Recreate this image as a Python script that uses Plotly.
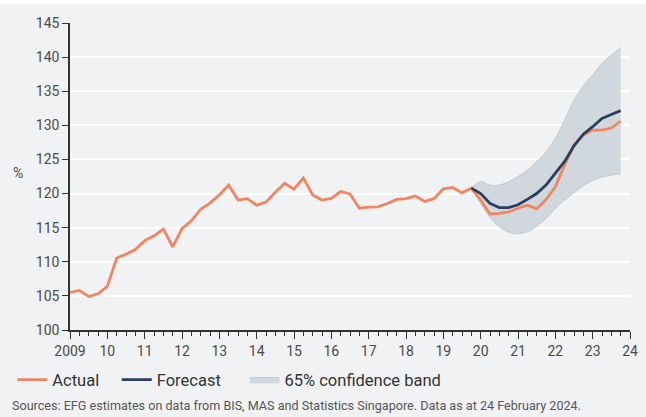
import plotly.graph_objects as go

# ---------------- data (quarterly) ----------------
start_year = 2009
actual = [
    105.5, 105.8, 104.9, 105.3,
    106.4, 110.55, 111.1, 111.8,
    113.1, 113.8, 114.8, 112.2,
    114.85, 116.0, 117.7, 118.6,
    119.8, 121.25, 119.05, 119.25,
    118.3, 118.75, 120.2, 121.5,
    120.65, 122.3, 119.8, 119.05,
    119.3, 120.3, 119.95, 117.85,
    118.0, 118.05, 118.55, 119.15,
    119.25, 119.65, 118.85, 119.25,
    120.7, 120.9, 120.1, 120.8,
    119.05, 117.0, 117.1, 117.3,
    117.85, 118.3, 117.75, 119.1,
    121.0, 124.2, 127.1, 128.6,
    129.3, 129.3, 129.6, 130.6,
]
forecast_start = 2019.75
forecast = [120.8, 120.0, 118.55, 117.95, 117.95, 118.35, 119.15, 120.0, 121.25,
            122.97, 124.7, 127.0, 128.7, 129.8, 131.0, 131.6, 132.15]
band_upper = [120.8, 121.75, 121.25, 121.25, 121.75, 122.5, 123.45, 124.7, 126.1,
              128.1, 130.8, 133.7, 135.8, 137.4, 139.1, 140.3, 141.4]
band_lower = [120.8, 118.55, 116.5, 115.15, 114.35, 114.1, 114.4, 115.2, 116.3,
              117.8, 119.05, 120.1, 121.15, 121.9, 122.4, 122.7, 122.9]
year_ticks = list(range(2009, 2025))
year_labels = ["2009"] + [str(y)[2:] for y in year_ticks[1:]]

x_actual = [start_year + i * 0.25 for i in range(len(actual))]
x_fc = [forecast_start + i * 0.25 for i in range(len(forecast))]

BG = "#f1f2f4"
ORANGE = "#f4845f"
NAVY = "#2a3f5f"
BAND = "#d0d7dd"
TXT = "#4a4a4a"
FONT = "Roboto"

fig = go.Figure()
fig.add_trace(go.Scatter(x=x_fc, y=band_lower, mode="lines",
                         line=dict(color="#bcc4cb", width=0.8, shape="spline"),
                         showlegend=False, hoverinfo="skip"))
fig.add_trace(go.Scatter(x=x_fc, y=band_upper, mode="lines", fill="tonexty",
                         fillcolor=BAND, name="65% confidence band",
                         line=dict(color="#bcc4cb", width=0.8, shape="spline"),
                         legend="legend3"))
fig.add_trace(go.Scatter(x=x_actual, y=actual, mode="lines", name="Actual",
                         line=dict(color=ORANGE, width=2.8), legend="legend"))
fig.add_trace(go.Scatter(x=x_fc, y=forecast, mode="lines", name="Forecast",
                         line=dict(color=NAVY, width=2.8), legend="legend2"))

leg_common = dict(orientation="h", y=-0.1055, xanchor="left", yanchor="top",
                  font=dict(size=16.5, color="#333333"), bgcolor="rgba(0,0,0,0)")

fig.update_layout(
    width=646, height=417,
    margin=dict(l=70, r=8, t=23, b=87),
    paper_bgcolor=BG, plot_bgcolor=BG,
    font=dict(family=FONT, color=TXT, size=14),
    showlegend=True,
    legend=dict(x=-0.103, **leg_common),
    legend2=dict(x=0.0835, **leg_common),
    legend3=dict(x=0.3116, **leg_common),
    xaxis=dict(range=[2009, 2024], tickmode="array", tickvals=year_ticks,
               ticktext=year_labels, showgrid=False, zeroline=False,
               showline=True, linecolor="#333333", linewidth=1.5,
               ticks="outside", ticklen=7, tickcolor="#333333", tickwidth=1.2,
               tickfont=dict(size=14, color=TXT),
               minor=dict(ticks="outside", ticklen=4, tickcolor="#333333",
                          tickwidth=1.2, dtick=0.25, tick0=2009, showgrid=False)),
    yaxis=dict(range=[100, 145], dtick=5, showgrid=True, gridcolor="#ffffff",
               gridwidth=1.5, zeroline=False, showline=True, linecolor="#333333",
               linewidth=1.5, ticks="outside", ticklen=6, tickcolor="#333333",
               tickwidth=1.2, tickfont=dict(size=14, color=TXT)),
)

# white strip at top of image
fig.add_shape(type="rect", xref="paper", yref="paper", x0=-1, x1=2,
              y0=1 + 19 / 307, y1=1 + 30 / 307, fillcolor="white",
              line=dict(width=0), layer="below")

fig.add_annotation(text="%", xref="paper", yref="paper", x=-0.092, y=0.51,
                   xanchor="center", yanchor="middle", showarrow=False,
                   font=dict(size=14, color=TXT))
fig.add_annotation(text="Sources: EFG estimates on data from BIS, MAS and Statistics Singapore. Data as at 24 February 2024.",
                   xref="paper", yref="paper", x=-0.108, y=-0.216,
                   xanchor="left", yanchor="top", showarrow=False,
                   font=dict(size=12.6, color="#555555"))

fig.write_html("out.html", config={"displayModeBar": False},
               post_script="document.body.style.margin='0px';")
